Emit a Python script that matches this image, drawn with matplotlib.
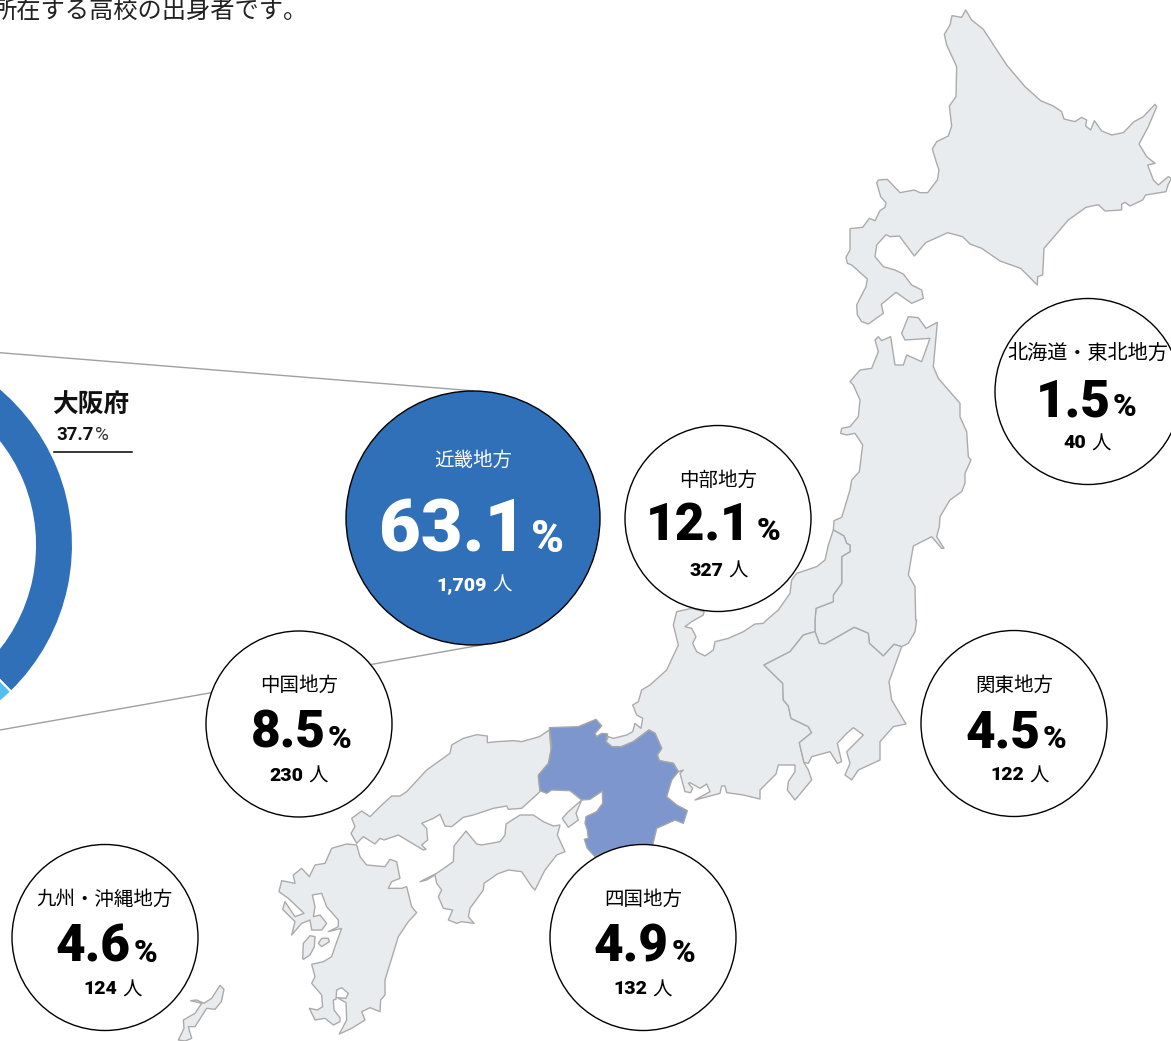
import matplotlib
matplotlib.use("Agg")
import matplotlib.pyplot as plt
from matplotlib.patches import Polygon, Circle

# 画像の切り抜き(3倍)から読んだ座標をピクセルに戻す
def px(x0, y0, pts):
    return [(x0 + a / 3, y0 + b / 3) for a, b in pts]

# data
regions = ["近畿地方", "中部地方", "中国地方", "北海道・東北地方", "関東地方", "四国地方", "九州・沖縄地方"]
percents = ["63.1", "12.1", "8.5", "1.5", "4.5", "4.9", "4.6"]
counts = ["1,709", "327", "230", "40", "122", "132", "124"]
donut_values = [37.7, 10.0, 52.3]
donut_colors = ["#3070B8", "#55BEF0", "#ffffff"]

# circle layout
circle_x = [473, 718, 299, 1088, 1014, 643, 105]
circle_y = [518, 518.5, 724, 391.5, 723.5, 937.5, 937.5]
circle_r = [127, 93, 93, 93, 93, 93, 93]
num_dx = [53, 33, 27, 23, 27, 26, 26]
num_dy = [33.7, 22, 24, 25, 24, 24.5, 24.5]
pct_dx = [58, 39, 29, 25, 29, 29, 29]
cnt_dx = [14, 5, 4, -2, 10, 4, 12]

hokkaido = px(780, 0, [(557,30),(545,52),(516,47),(510,75),(493,103),(500,135),(530,200),(528,290),(508,318),(515,378),(505,408),(470,425),(457,447),(470,490),(477,510),(472,540),(443,578),(420,578),(403,570),(360,578),(322,538),(296,540),(290,548),(302,590),(318,608),(315,622),(300,632),(285,662),(268,655),(248,682),(210,686),(210,750),(198,772),(202,790),(215,795),(262,837),(258,860),(230,915),(232,945),(245,965),(265,972),(310,940),(304,913),(348,877),(395,910),(430,895),(425,870),(395,855),(370,822),(345,810),(310,800),(285,770),(290,735),(318,704),(330,710),(358,708),(403,768),(437,728),(503,698),(548,710),(570,732),(605,745),(660,783),(722,805),(772,855),(773,830),(788,825),(792,745),(865,660),(918,622),(955,614),(975,633),(1025,630),(1025,612),(1035,607),(1050,618),(1088,600),(1097,585),(1158,575),(1165,552),(1175,535),(1165,530),(1135,555),(1120,540),(1103,495),(1125,490),(1100,470),(1077,432),(1105,380),(1130,320),(1125,313),(1090,350),(1062,365),(1030,398),(995,405),(965,393),(943,362),(932,390),(917,378),(920,360),(905,352),(885,365),(852,357),(845,335),(820,318),(782,302),(735,260),(680,195),(610,88),(575,60)])

tohoku = px(620, 300, [(640,690),(642,662),(665,652),(690,570),(695,540),(718,515),(728,435),(705,400),(680,405),(662,400),(665,385),(690,380),(715,350),(720,300),(700,255),(690,245),(720,210),(755,205),(775,155),(765,120),(775,110),(785,122),(812,110),(825,195),(850,195),(860,165),(905,185),(930,115),(855,120),(845,100),(865,50),(895,53),(918,85),(952,67),(940,200),(955,235),(1020,310),(1020,350),(1040,395),(1045,470),(1053,480),(1035,520),(1035,550),(1025,575),(990,600),(960,650),(958,680),(950,710),(972,745),(965,745),(935,710),(880,738),(865,825),(885,860),(887,960)]) \
    + px(500, 600, [(1250,60),(1245,95),(1225,130),(1205,140),(1182,133),(1150,168),(1108,130),(1105,100),(1063,82),(975,132),(958,130),(945,95)]) \
    + px(620, 300, [(585,960),(588,925),(640,905),(640,885),(665,850),(665,770),(690,755),(690,735),(680,730),(672,708)])

chubu = px(620, 300, [(640,690),(625,735),(615,780),(590,800),(530,820),(515,840),(510,880),(475,930),(440,960)]) \
    + px(500, 600, [(790,70),(765,72),(730,95),(685,115),(645,125),(640,150),(615,168),(590,155),(578,130),(588,110),(575,85),(555,80),(575,65),(610,45),(612,35),(575,25),(530,35),(520,75),(535,135),(500,210),(450,255),(425,270),(415,305),(398,315),(410,345),(428,355),(423,385),(405,370),(398,395),(380,405),(360,410),(340,415),(325,410),(318,425),(335,440),(365,440),(400,425),(447,390),(465,400),(485,445),(472,465),(478,482),(520,490),(535,515),(550,510),(540,520),(555,575),(572,578),(578,565),(565,550),(570,548),(600,565),(620,552),(630,575),(585,600),(660,580),(665,558),(675,558),(680,578),(730,585),(780,597),(780,570),(805,545),(828,522),(835,495),(885,495),(885,515),(865,545),(862,570),(885,600),(935,540),(925,510),(912,488),(898,428),(935,398),(925,380),(873,355),(865,318),(850,300),(848,250),(792,195),(870,155),(910,105),(945,95)]) \
    + px(620, 300, [(585,960),(588,925),(640,905),(640,885),(665,850),(665,770),(690,755),(690,735),(680,730),(672,708)])

kanto = px(500, 600, [(792,195),(870,155),(910,105),(945,95),(958,130),(975,132),(1063,82),(1105,100),(1108,130),(1150,168),(1182,133),(1205,140),(1180,210),(1167,245),(1175,300),(1218,372),(1180,380),(1140,425),(1140,480),(1075,510),(1055,540),(1035,525),(1050,490),(1040,455),(1090,405),(1060,383),(1040,400),(1012,430),(1025,485),(1012,490),(990,455),(935,470),(925,490),(912,488),(898,428),(935,398),(925,380),(873,355),(865,318),(850,300),(848,250)])

kinki = px(500, 600, [(148,383),(235,380),(288,358),(305,378),(285,400),(290,410),(305,400),(323,402),(318,425),(335,440),(365,440),(400,425),(447,390),(465,400),(485,445),(472,465),(478,482),(520,490),(535,515),(515,540),(500,590),(530,615),(562,632),(550,670),(525,660),(470,685),(458,735),(420,732),(330,750),(285,770),(262,745),(253,718),(265,715),(262,690),(255,670),(258,650),(290,635),(308,610),(307,573),(270,598),(245,600),(210,572),(155,570),(140,580),(120,572),(115,525),(145,490),(155,440)])

awaji = px(500, 600, [(245,600),(205,635),(187,655),(205,682),(235,660),(228,640)])

chugoku = px(260, 720, [(868,30),(838,50),(785,65),(760,62),(710,65),(682,68),(682,48),(650,44),(610,55),(575,75),(570,100),(500,150),(440,215),(420,228),(395,228),(360,260),(330,290),(305,273),(275,295),(285,320),(273,340),(290,370),(310,350),(345,372),(360,355),(372,360),(415,345),(490,390),(498,388),(485,375),(503,360),(500,325),(485,310),(520,295),(540,283),(555,318),(575,320),(610,292),(640,285),(700,265),(740,258),(745,268),(785,265),(840,215),(835,170),(868,130),(873,90)])

shikoku = px(260, 720, [(480,485),(530,460),(580,425),(582,378),(618,333),(650,372),(665,375),(720,365),(735,345),(738,312),(780,285),(820,285),(850,305),(880,318),(900,315),(892,345),(915,395),(890,405),(855,450),(825,510),(815,500),(785,455),(745,450),(712,462),(672,490),(670,510),(630,565),(625,590),(642,610),(605,605),(590,610),(565,600),(578,570),(550,565),(535,530),(545,510),(530,490),(525,465),(500,480)])

kyushu = px(260, 720, [(290,375),(260,372),(215,385),(195,430),(165,435),(148,470),(125,445),(100,465),(105,490),(65,482),(57,515),(85,535),(132,580),(105,590),(75,545),(68,568),(105,605),(95,645),(125,610),(150,600),(155,630),(185,630),(200,610),(180,585),(160,590),(165,560),(157,525),(185,520),(200,560),(235,600),(235,620),(205,635),(245,625),(225,680),(215,710),(190,725),(155,733),(165,770),(155,790),(185,825),(188,860),(172,870),(148,865),(165,900),(195,895),(220,915),(240,905),(240,893),(222,870),(220,840),(228,838),(230,810),(245,803),(265,820),(258,835),(232,833),(258,848),(260,900),(238,942),(275,925),(315,900),(305,875),(330,863),(360,875),(362,840),(375,825),(375,780),(415,650),(445,605),(470,578),(455,560),(440,500),(425,505),(385,505),(395,485),(420,475),(410,425),(390,418),(375,440),(320,435),(300,410)])

amakusa = px(260, 720, [(128,715),(130,670),(150,647),(165,650),(163,680),(150,705),(130,718)])
koshiki = px(260, 720, [(175,670),(185,655),(205,655),(208,665),(185,680)])
okinawa = px(160, 970, [(180,46),(192,58),(184,95),(165,118),(140,115),(105,170),(85,170),(95,205),(75,213),(55,210),(72,175),(70,150),(105,130),(125,100),(92,92),(110,90),(132,100),(155,85)])

grey_shapes = [hokkaido, tohoku, chubu, kanto, chugoku, shikoku, kyushu, awaji, amakusa, koshiki, okinawa]

plt.rcParams['font.family'] = ['Noto Sans CJK JP', 'DejaVu Sans']
JP = ['Noto Sans CJK JP', 'DejaVu Sans']
NUM = ['Roboto', 'DejaVu Sans']

fig = plt.figure(figsize=(11.71, 10.41), dpi=100)
ax = fig.add_axes([0, 0, 1, 1])

# donut (only its right edge is in frame)
ax.pie(donut_values, colors=donut_colors, center=(-132, 545), radius=205, startangle=-90,
       counterclock=True, wedgeprops=dict(width=38, edgecolor='white', linewidth=1.5), frame=False)
ax.set_xlim(0, 1171)
ax.set_ylim(1041, 0)
ax.set_aspect('equal')
ax.axis('off')

# leader lines
ax.plot([0, 473], [352.7, 390.8], color='#A0A0A0', lw=1, zorder=1)
ax.plot([0, 487], [730, 644], color='#A0A0A0', lw=1, zorder=1)

# map
for s in grey_shapes:
    ax.add_patch(Polygon(s, closed=True, fc='#E9ECEF', ec='#ABABAB', lw=1, joinstyle='round', zorder=2))
ax.add_patch(Polygon(kinki, closed=True, fc='#7D97CE', ec='#A6A6A6', lw=1, joinstyle='round', zorder=3))

# circles
for i in range(len(regions)):
    cx, cy, r = circle_x[i], circle_y[i], circle_r[i]
    big = i == 0
    fg = 'white' if big else 'black'
    ax.add_patch(Circle((cx, cy), r, fc='#3070B8' if big else 'white', ec='black', lw=1, zorder=4))
    ax.text(cx, cy + (-58 if big else -38.5), regions[i], color=fg, fontsize=14.5 if i == 3 else 14, family=JP,
            ha='center', va='center', zorder=5)
    base = cy + num_dy[i]
    ax.text(cx + num_dx[i], base, percents[i], color=fg, fontsize=52 if big else 37, family=NUM,
            weight='black', ha='right', va='baseline', zorder=5)
    ax.text(cx + pct_dx[i], base, '%', color=fg, fontsize=32 if big else 23, family=NUM,
            weight='black', ha='left', va='baseline', zorder=5)
    base2 = cy + (72 if big else 57)
    ax.text(cx + cnt_dx[i], base2, counts[i], color=fg, fontsize=14, family=NUM,
            weight='black', ha='right', va='baseline', zorder=5)
    ax.text(cx + cnt_dx[i] + 5, base2 + 1, '人', color=fg, fontsize=14, family=JP,
            ha='left', va='baseline', zorder=5)

# donut label
ax.text(52, 405, '大阪府', fontsize=18.5, family=JP, weight='bold', color='#111111', ha='left', va='center')
ax.text(56, 440.5, '37.7', fontsize=13.5, family=NUM, weight='bold', color='#111111', ha='left', va='baseline')
ax.text(94.5, 440.5, '%', fontsize=13.5, family=NUM, color='#333333', ha='left', va='baseline')
ax.plot([54, 131.5], [451.5, 451.5], color='black', lw=1.1)

# cut-off sentence at the top
ax.text(-8, 11, '所在する高校の出身者です。', fontsize=17.5, family=JP, color='#222222', ha='left', va='center')

fig.savefig('out.png', dpi=100)
